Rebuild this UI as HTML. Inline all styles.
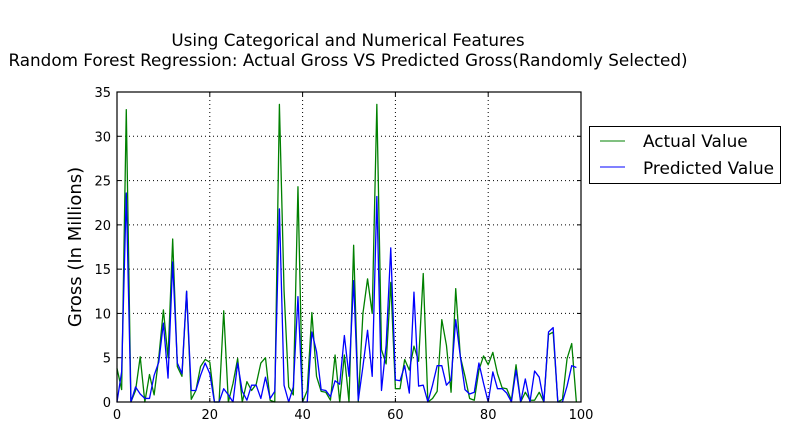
<!DOCTYPE html>
<html><head><meta charset="utf-8"><style>
body{margin:0;background:#fff;}
svg text{font-family:"DejaVu Sans","Liberation Sans",sans-serif;}
</style></head><body>
<svg id="chart" width="790" height="432" viewBox="0 0 790 432" xmlns="http://www.w3.org/2000/svg">
<rect x="0" y="0" width="790" height="432" fill="#fff"/>
<text x="348" y="46" text-anchor="middle" font-size="16.8">Using Categorical and Numerical Features</text>
<text x="348" y="66" text-anchor="middle" font-size="16.8">Random Forest Regression: Actual Gross VS Predicted Gross(Randomly Selected)</text>
<g id="grid"></g>
<g id="series"></g>
<rect x="117" y="92" width="464" height="310" fill="none" stroke="#000" stroke-width="1.2"/>
<g id="ticks"></g>
<text transform="translate(81,247) rotate(-90)" text-anchor="middle" font-size="18">Gross (In Millions)</text>
<g>
<rect x="589.5" y="126.5" width="191" height="57" fill="#fff" stroke="#000" stroke-width="1"/>
<line x1="600" y1="141" x2="625" y2="141" stroke="#008000" stroke-width="1"/>
<text x="643" y="147" font-size="16.9">Actual Value</text>
<line x1="600" y1="167" x2="625" y2="167" stroke="#0000ff" stroke-width="1"/>
<text x="643" y="174" font-size="16.9">Predicted Value</text>
</g>
</svg>
<script>
const xTicks=[0,20,40,60,80,100];
const yTicks=[0,5,10,15,20,25,30,35];
const actual=[3.8,1.4,33,0,1.3,5.1,0,3.1,0.8,5,10.4,5,18.4,4,2.9,12.5,0.3,1.3,4,4.8,4.5,0,0,10.3,0,2.1,4.9,0,2.3,1.3,2,4.4,5,0.2,0,33.6,12.6,1.7,0.8,24.3,0,1.3,10.1,2.9,1.2,1.1,0.2,5.3,0,5.3,0,17.7,0,10,13.9,10,33.6,5.9,4.3,13.5,1.5,1.5,4.8,3.6,6.3,4.6,14.5,0,0.4,1.2,9.3,6.4,1.1,12.8,5.1,2.9,0.4,0.2,3.6,5.2,4.2,5.6,3.2,1.6,1.5,0.2,4.2,0,1.1,0.2,0.2,1.1,0,7.6,7.9,0,0.3,4.9,6.6,0];
const predicted=[0,3.4,23.6,0,1.7,0.9,0.4,0.4,3,4.5,8.9,2.7,15.8,4.4,3.2,12.5,1.3,1.3,3,4.4,3.2,0,0,1.5,0.8,0,4.4,1.2,0.2,1.9,1.9,0.4,2.8,0.4,1.2,21.8,1.9,0,1.7,11.9,0,0,7.9,5.7,1.4,1.3,0.6,2.4,2,7.5,2.9,13.7,0.2,4,8.1,2.9,23.2,1.3,6.4,17.4,2.5,2.4,4.1,1,12.4,1.8,1.9,0,1.9,4.1,4.1,1.9,2.5,9.3,5.1,1.4,0.9,1.1,4.4,2.1,0,3.4,1.5,1.5,1,0,3.6,0,2.6,0,3.5,2.8,0,7.9,8.4,0,0,1.8,4.1,3.9];
const NS="http://www.w3.org/2000/svg";
const X0=117,X1=581,Y0=402,Y1=92;
function xs(v){return X0+(v-0)/(100-0)*(X1-X0);}
function ys(v){return Y0-(v-0)/(35-0)*(Y0-Y1);}
const grid=document.getElementById('grid'),ticks=document.getElementById('ticks'),series=document.getElementById('series');
function mk(tag,attrs,parent){const e=document.createElementNS(NS,tag);for(const k in attrs)e.setAttribute(k,attrs[k]);parent.appendChild(e);return e;}
xTicks.forEach(t=>{
 const x=xs(t);
 const g=mk('line',{x1:x,y1:Y1,x2:x,y2:Y0,stroke:'#000','stroke-dasharray':'1,3','stroke-width':1},grid);
 
 
 mk('line',{x1:x,y1:Y0,x2:x,y2:Y0-4,stroke:'#000'},ticks);
 mk('line',{x1:x,y1:Y1,x2:x,y2:Y1+4,stroke:'#000'},ticks);
 const l=mk('text',{x:x,y:Y0+17,'text-anchor':'middle','font-size':13},ticks);
 l.textContent=t;
 
 
});
yTicks.forEach(t=>{
 const y=ys(t);
 const g=mk('line',{x1:X0,y1:y,x2:X1,y2:y,stroke:'#000','stroke-dasharray':'1,3','stroke-width':1},grid);
 
 
 mk('line',{x1:X0,y1:y,x2:X0+4,y2:y,stroke:'#000'},ticks);
 mk('line',{x1:X1,y1:y,x2:X1-4,y2:y,stroke:'#000'},ticks);
 const l=mk('text',{x:X0-6,y:y+5,'text-anchor':'end','font-size':13},ticks);
 l.textContent=t;
 
 
});
function line(arr,color,name){
 const pts=arr.map((v,i)=>xs(i).toFixed(2)+','+ys(v).toFixed(2)).join(' ');
 const p=mk('polyline',{points:pts,fill:'none',stroke:color,'stroke-width':1.3,'stroke-linejoin':'round'},series);
 
 
}
line(actual,'#008000','actual-value-line');
line(predicted,'#0000ff','predicted-value-line');
</script>
</body></html>
